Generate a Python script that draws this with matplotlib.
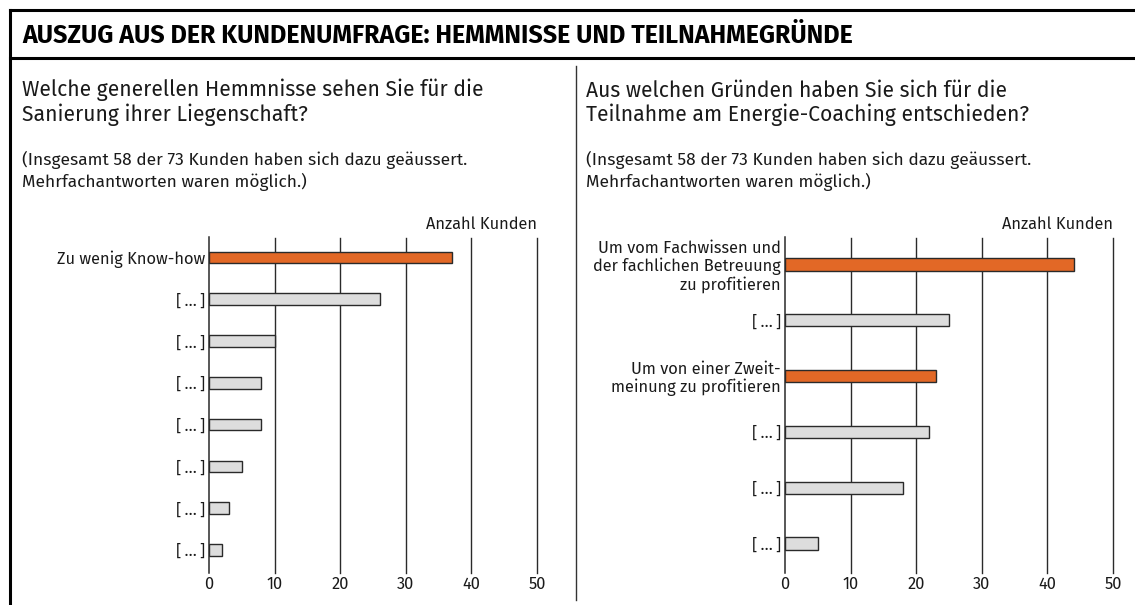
import matplotlib.pyplot as plt
from matplotlib.lines import Line2D

plt.rcParams['font.family'] = ['Fira Sans', 'DejaVu Sans']

# data
title = 'AUSZUG AUS DER KUNDENUMFRAGE: HEMMNISSE UND TEILNAHMEGRÜNDE'
q_left = 'Welche generellen Hemmnisse sehen Sie für die\nSanierung ihrer Liegenschaft?'
q_right = 'Aus welchen Gründen haben Sie sich für die\nTeilnahme am Energie-Coaching entschieden?'
note = '(Insgesamt 58 der 73 Kunden haben sich dazu geäussert.\nMehrfachantworten waren möglich.)'

dots = '[\u2009…\u2009]'
left_labels = ['Zu wenig Know-how', dots, dots, dots, dots, dots, dots, dots]
left_values = [37, 26, 10, 8, 8, 5, 3, 2]
left_hl = [True, False, False, False, False, False, False, False]

right_labels = ['Um vom Fachwissen und\nder fachlichen Betreuung\nzu profitieren', dots,
                'Um von einer Zweit-\nmeinung zu profitieren', dots, dots, dots]
right_values = [44, 25, 23, 22, 18, 5]
right_hl = [True, False, True, False, False, False]

ticks = [0, 10, 20, 30, 40, 50]

ORANGE = '#e26826'
GRAY = '#dddddd'
DARK = '#2a2a2a'
TXT = '#1a1a1a'

W, H = 1135, 605
fig = plt.figure(figsize=(W / 100, H / 100), dpi=100)


def fx(px):
    return px / W


def fy(py):
    return 1 - py / H


# frame lines
fig.add_artist(Line2D([fx(10), 1], [fy(10), fy(10)], color='black', lw=2.2))
fig.add_artist(Line2D([fx(10), 1], [fy(58), fy(58)], color='black', lw=2.2))
fig.add_artist(Line2D([fx(10), fx(10)], [fy(10), 0], color='black', lw=2.2))
fig.add_artist(Line2D([fx(576), fx(576)], [fy(66), fy(600)], color='#333333', lw=1.0))

fig.text(fx(22), fy(43), title, fontsize=18, fontweight='bold', va='baseline', ha='left')

# multi-line texts: baseline = baseline of the last line
for x0, q in [(22, q_left), (586, q_right)]:
    fig.text(fx(x0), fy(121), q, fontsize=15.2, va='baseline', ha='left', linespacing=1.12, color=TXT)
    fig.text(fx(x0), fy(187), note, fontsize=12.5, va='baseline', ha='left', linespacing=1.28, color=TXT)


def draw(x_left, labels, values, hl, ytop_unit, ybot_unit, bh):
    x0 = fx(x_left)
    x1 = fx(x_left + 328)
    ax = fig.add_axes([x0, fy(572.5), x1 - x0, fy(237.5) - fy(572.5)])
    pos = list(range(len(values)))
    colors = [ORANGE if h else GRAY for h in hl]
    ax.barh(pos, values, height=bh, color=colors, edgecolor=DARK, linewidth=1.0, zorder=3)
    ax.set_xlim(0, 50)
    ax.set_ylim(ybot_unit, ytop_unit)
    for t in ticks[1:]:
        ax.axvline(t, color=DARK, lw=1.0, zorder=1, clip_on=False)
    for s in ['top', 'right', 'bottom']:
        ax.spines[s].set_visible(False)
    ax.spines['left'].set_color(DARK)
    ax.spines['left'].set_linewidth(1.1)
    ax.set_xticks(ticks)
    ax.set_yticks(pos)
    ax.set_yticklabels(labels, linespacing=1.1)
    ax.tick_params(axis='both', length=0, labelsize=11.8, colors=TXT)
    ax.tick_params(axis='y', pad=3)
    ax.tick_params(axis='x', pad=3)
    ax.set_facecolor('none')
    ax.text(1.0, 1.04, 'Anzahl Kunden', transform=ax.transAxes, ha='right', va='center',
            fontsize=11.8, color=TXT)
    return ax


draw(209, left_labels, left_values, left_hl, -0.48, len(left_values) - 0.46, 0.28)
draw(785, right_labels, right_values, right_hl, -0.484, len(right_values) - 0.48, 0.22)

fig.savefig('out.png', dpi=100)
